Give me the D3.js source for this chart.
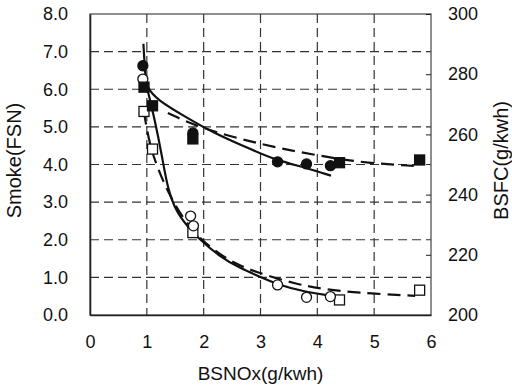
<!DOCTYPE html>
<html>
<head>
<meta charset="utf-8">
<script src="https://cdn.jsdelivr.net/npm/d3@7"></script>
<style>
  body { margin: 0; background: #fff; }
  svg { font-family: "Liberation Sans", Arial, sans-serif; }
  .grid line { stroke: #333; stroke-width: 1.2; stroke-dasharray: 9 5; }
  .axis path, .axis line { stroke: #222; }
  .axis text { font-size: 18px; fill: #111; }
</style>
</head>
<body>
<svg width="512" height="385"></svg>
<script>
// ---- data ----
// x = BSNOx (g/kwh)
var xTicks = [0, 1, 2, 3, 4, 5, 6];
var smokeTicks = [0, 1, 2, 3, 4, 5, 6, 7, 8];
var bsfcTicks = [200, 220, 240, 260, 280, 300];

// smoke (left axis), open markers
var smokeCircleX = [0.93, 1.77, 1.82, 3.30, 3.81, 4.23];
var smokeCircleY = [6.27, 2.63, 2.37, 0.80, 0.47, 0.49];
var smokeSquareX = [0.95, 1.10, 1.81, 4.39, 5.80];
var smokeSquareY = [5.41, 4.41, 2.19, 0.40, 0.66];

// bsfc (right axis), filled markers
var bsfcCircleX = [0.93, 1.81, 3.30, 3.81, 4.23];
var bsfcCircleY = [282.8, 260.5, 250.9, 250.2, 249.6];
var bsfcSquareX = [0.95, 1.10, 1.81, 4.39, 5.80];
var bsfcSquareY = [275.7, 269.5, 258.5, 250.6, 251.5];

// trend lines
var smokeSolidX = [0.99, 1.14, 1.27, 1.37, 1.53, 1.71, 1.88, 2.29, 2.64, 2.92, 3.31, 3.80, 4.24];
var smokeSolidY = [6.12, 5.19, 4.20, 3.32, 2.71, 2.37, 2.07, 1.54, 1.25, 1.06, 0.80, 0.61, 0.51];
var smokeDashX = [0.95, 0.97, 1.06, 1.20, 1.41, 1.71, 2.11, 2.55, 2.92, 3.63, 4.10, 4.68, 5.72];
var smokeDashY = [5.40, 5.19, 4.47, 3.86, 3.14, 2.39, 1.78, 1.36, 1.14, 0.82, 0.69, 0.59, 0.51];
var bsfcSolidX = [0.94, 0.97, 1.00, 1.18, 1.71, 2.17, 2.92, 3.27, 3.80, 4.24];
var bsfcSolidY = [290.1, 279.8, 275.5, 271.5, 265.5, 260.5, 254.3, 251.5, 248.9, 246.3];
var bsfcDashX = [1.37, 1.94, 2.92, 3.57, 4.23, 4.86, 5.72];
var bsfcDashY = [267.1, 262.1, 257.1, 254.5, 252.3, 250.5, 249.5];

function zip(xs, ys) {
    return xs.map(function (x, i) { return { x: x, y: ys[i] }; });
}

var svg = d3.select("svg"),
    margin = { top: 14, right: 81, bottom: 70, left: 90 },
    width = +svg.attr("width") - margin.left - margin.right,
    height = +svg.attr("height") - margin.top - margin.bottom;

var x = d3.scaleLinear().domain([0, 6]).range([0, width]),
    yL = d3.scaleLinear().domain([0, 8]).range([height, 0]),
    yR = d3.scaleLinear().domain([200, 300]).range([height, 0]);

var g = svg.append("g")
    .attr("transform", "translate(" + margin.left + "," + margin.top + ")");

// dashed grid
g.append("g").attr("class", "grid")
    .selectAll("line").data(smokeTicks.slice(1, -1)).enter().append("line")
    .attr("x1", 0).attr("x2", width)
    .attr("y1", function (d) { return yL(d); })
    .attr("y2", function (d) { return yL(d); });
g.append("g").attr("class", "grid")
    .selectAll("line").data(xTicks.slice(1, -1)).enter().append("line")
    .attr("y1", 0).attr("y2", height)
    .attr("x1", function (d) { return x(d); })
    .attr("x2", function (d) { return x(d); });

// frame
g.append("rect")
    .attr("width", width).attr("height", height)
    .attr("fill", "none").attr("stroke", "#444").attr("stroke-width", 1.2);

// axes
g.append("g").attr("class", "axis")
    .attr("transform", "translate(0," + height + ")")
    .call(d3.axisBottom(x).tickValues(xTicks).tickSize(0).tickPadding(20).tickFormat(d3.format("d")))
    .call(function (s) { s.select(".domain").attr("stroke-width", 1.6); });

g.append("g").attr("class", "axis")
    .call(d3.axisLeft(yL).tickValues(smokeTicks).tickSize(0).tickPadding(22).tickFormat(d3.format(".1f")))
    .call(function (s) { s.select(".domain").attr("stroke-width", 1.6); });

g.append("g").attr("class", "axis")
    .attr("transform", "translate(" + width + ",0)")
    .call(d3.axisRight(yR).tickValues(bsfcTicks).tickSizeInner(-5).tickSizeOuter(0).tickPadding(17))
    .call(function (s) { s.select(".domain").remove(); });

// axis titles
svg.append("text")
    .attr("x", margin.left + width / 2).attr("y", 380)
    .attr("text-anchor", "middle").attr("font-size", 19).attr("fill", "#111")
    .text("BSNOx(g/kwh)");
svg.append("text")
    .attr("transform", "translate(21," + (margin.top + height / 2 - 4) + ") rotate(-90)")
    .attr("text-anchor", "middle").attr("font-size", 20).attr("fill", "#111")
    .text("Smoke(FSN)");
svg.append("text")
    .attr("transform", "translate(508," + (margin.top + height / 2 - 4) + ") rotate(-90)")
    .attr("text-anchor", "middle").attr("font-size", 20).attr("fill", "#111")
    .text("BSFC(g/kwh)");

// trend lines
function drawLine(data, yScale, dashed) {
    var line = d3.line()
        .x(function (d) { return x(d.x); })
        .y(function (d) { return yScale(d.y); })
        .curve(d3.curveBasis);
    g.append("path")
        .datum(data)
        .attr("fill", "none")
        .attr("stroke", "#111")
        .attr("stroke-width", 2.2)
        .attr("stroke-dasharray", dashed ? "13 7" : null)
        .attr("d", line);
}
drawLine(zip(bsfcSolidX, bsfcSolidY), yR, false);
drawLine(zip(bsfcDashX, bsfcDashY), yR, true);
drawLine(zip(smokeSolidX, smokeSolidY), yL, false);
drawLine(zip(smokeDashX, smokeDashY), yL, true);

// markers
function circles(data, yScale, filled) {
    g.append("g").selectAll("circle").data(data).enter().append("circle")
        .attr("cx", function (d) { return x(d.x); })
        .attr("cy", function (d) { return yScale(d.y); })
        .attr("r", 5)
        .attr("fill", filled ? "#111" : "#fff")
        .attr("stroke", "#111").attr("stroke-width", 1.3);
}
function squares(data, yScale, filled) {
    g.append("g").selectAll("rect").data(data).enter().append("rect")
        .attr("x", function (d) { return x(d.x) - 5; })
        .attr("y", function (d) { return yScale(d.y) - 5; })
        .attr("width", 10).attr("height", 10)
        .attr("fill", filled ? "#111" : "#fff")
        .attr("stroke", "#111").attr("stroke-width", 1.3);
}
squares(zip(smokeSquareX, smokeSquareY), yL, false);
circles(zip(smokeCircleX, smokeCircleY), yL, false);
squares(zip(bsfcSquareX, bsfcSquareY), yR, true);
circles(zip(bsfcCircleX, bsfcCircleY), yR, true);
</script>
</body>
</html>
